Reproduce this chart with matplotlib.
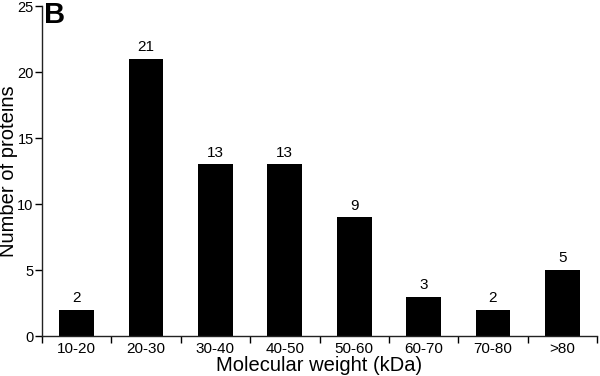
import matplotlib
matplotlib.use("Agg")
from matplotlib import pyplot as plt
import numpy as np

plt.rcParams["font.family"] = ["Liberation Sans", "DejaVu Sans"]

categories = ["10-20", "20-30", "30-40", "40-50", "50-60", "60-70", "70-80", ">80"]
counts = [2, 21, 13, 13, 9, 3, 2, 5]

fig = plt.figure(figsize=(6, 3.76), dpi=100)
ax = fig.add_axes([0.07, 0.106, 0.925, 0.878])

x = np.arange(len(categories))
ax.bar(x, counts, width=0.5, color="black")
for xi, c in zip(x, counts):
    ax.text(xi, c + 0.35, str(c), ha="center", va="bottom", fontsize=11)

ax.set_xlim(-0.5, len(categories) - 0.5)
ax.set_ylim(0, 25)
ax.set_yticks([0, 5, 10, 15, 20, 25])
ax.set_xticks(x)
ax.set_xticklabels(categories, fontsize=11)
ax.set_xticks(np.arange(-0.5, len(categories), 1.0), minor=True)
ax.tick_params(axis="x", which="major", length=0, pad=4)
ax.tick_params(axis="x", which="minor", length=5, width=1)
ax.tick_params(axis="y", labelsize=10.5, length=5, width=1, pad=1)

for s in ["top", "right"]:
    ax.spines[s].set_visible(False)
for s in ["left", "bottom"]:
    ax.spines[s].set_linewidth(1)
    ax.spines[s].set_color("#222222")

ax.set_xlabel("Molecular weight (kDa)", fontsize=14.5, labelpad=0)
ax.set_ylabel("Number of proteins", fontsize=14.5)
ax.yaxis.set_label_coords(-0.044, 0.5)

# panel letter
fig.text(0.073, 0.998, "B", fontsize=21, fontweight="bold", ha="left", va="top")

fig.savefig("out.png", dpi=100)
